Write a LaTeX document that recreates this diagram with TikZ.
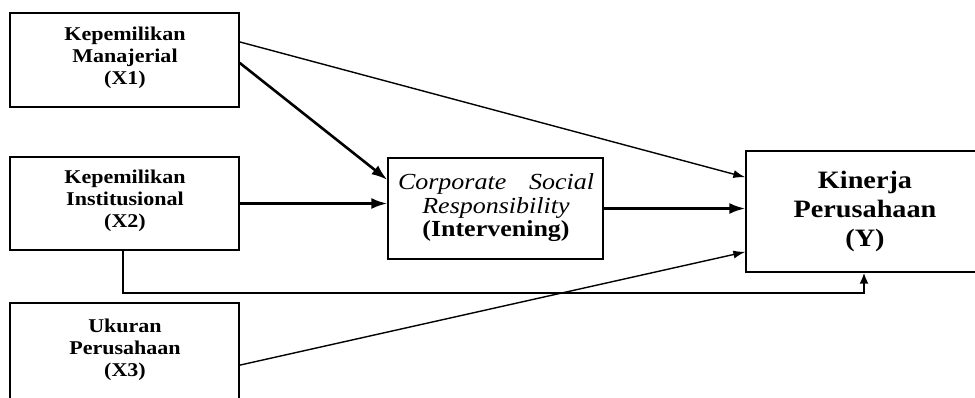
\documentclass[tikz,border=0pt]{standalone}
\usepackage{fontspec}
\setmainfont[FakeStretch=1.13]{Liberation Serif}
\usetikzlibrary{arrows.meta,calc}
\begin{document}
\begin{tikzpicture}[x=1pt,y=-1pt,
  box/.style={draw,line width=1.3pt,rectangle,inner sep=0pt},
  lbl/.style={align=center,font=\bfseries\fontsize{19.5}{22}\selectfont},
  thin/.style={line width=1.4pt,-{Latex[length=12pt,width=8pt]}},
  thick/.style={line width=2.6pt,-{Latex[length=16pt,width=11pt]}}]
\useasboundingbox (0,0) rectangle (975,397);
\clip (0,0) rectangle (975,397);
\node[box,minimum width=229pt,minimum height=94pt] (X1) at (124.5,60) {};
\node[box,minimum width=229pt,minimum height=93pt] (X2) at (124.5,203.5) {};
\node[box,minimum width=229pt,minimum height=107pt] (X3) at (124.5,356.5) {};
\node[box,minimum width=215pt,minimum height=101pt] (C) at (495.5,208.5) {};
\node[box,minimum width=238pt,minimum height=121pt] (Y) at (865,211.5) {};
\node[lbl] (t1) at (125,57.5) {Kepemilikan\\Manajerial\\(X1)};
\node[lbl] (t2) at (125,201) {Kepemilikan\\Institusional\\(X2)};
\node[lbl] (t3) at (125,350) {Ukuran\\Perusahaan\\(X3)};
\node[align=center,font=\fontsize{23}{23.5}\selectfont] (tc) at (496,208) {\makebox[196pt][s]{\itshape Corporate Social}\\\textit{Responsibility}\\\textbf{(Intervening)}};
\node[align=center,font=\bfseries\fontsize{25}{29}\selectfont] (ty) at (865,211) {Kinerja\\Perusahaan\\(Y)};
\draw[thin] ($(X1.north east)!0.31!(X1.south east)$) -- ($(Y.north west)!0.22!(Y.south west)$);
\draw[thick] ($(X1.north east)!0.53!(X1.south east)$) -- ($(C.north west)!0.22!(C.south west)$);
\draw[thick] (X2.east) -- (X2.east -| C.west);
\draw[thick] (C.east) -- (C.east -| Y.west);
\draw[thin] ($(X3.north east)!0.58!(X3.south east)$) -- ($(Y.north west)!0.83!(Y.south west)$);
\coordinate (b1) at (123,293);
\coordinate (b2) at (864,293);
\draw[line width=2pt,-{Latex[length=11pt,width=9pt]}] (X2.south -| b1) -- (b1) -- (b2) -- (b2 |- Y.south);
\end{tikzpicture}
\end{document}
